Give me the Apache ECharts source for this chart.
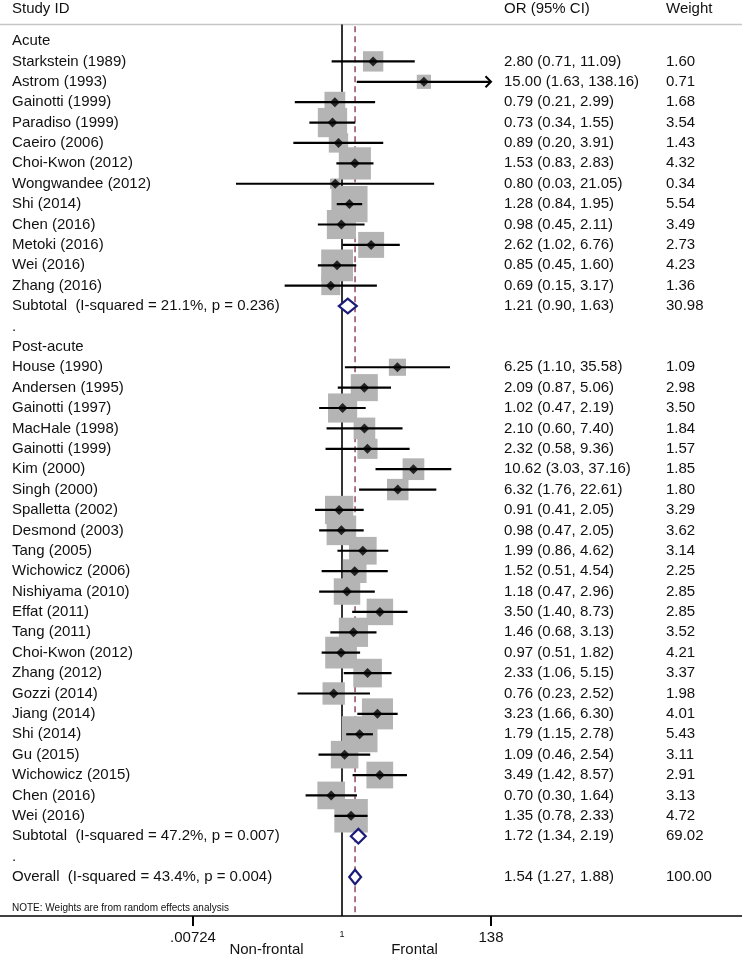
<!DOCTYPE html>
<html><head><meta charset="utf-8">
<script src="https://cdn.jsdelivr.net/npm/echarts@6/dist/echarts.min.js"></script>
<style>html,body{margin:0;padding:0;background:#fff}#c{width:742px;height:957px}</style>
</head><body><div id="c"></div>
<script>
// ---------- data ----------
const groupLabels = ['Acute', 'Post-acute'];

const acuteStudies = ['Starkstein (1989)','Astrom (1993)','Gainotti (1999)','Paradiso (1999)','Caeiro (2006)','Choi-Kwon (2012)','Wongwandee (2012)','Shi (2014)','Chen (2016)','Metoki (2016)','Wei (2016)','Zhang (2016)'];
const acuteOR     = [2.80, 15.00, 0.79, 0.73, 0.89, 1.53, 0.80, 1.28, 0.98, 2.62, 0.85, 0.69];
const acuteLo     = [0.71, 1.63, 0.21, 0.34, 0.20, 0.83, 0.03, 0.84, 0.45, 1.02, 0.45, 0.15];
const acuteHi     = [11.09, 138.16, 2.99, 1.55, 3.91, 2.83, 21.05, 1.95, 2.11, 6.76, 1.60, 3.17];
const acuteWeight = [1.60, 0.71, 1.68, 3.54, 1.43, 4.32, 0.34, 5.54, 3.49, 2.73, 4.23, 1.36];

const postStudies = ['House (1990)','Andersen (1995)','Gainotti (1997)','MacHale (1998)','Gainotti (1999)','Kim (2000)','Singh (2000)','Spalletta (2002)','Desmond (2003)','Tang (2005)','Wichowicz (2006)','Nishiyama (2010)','Effat (2011)','Tang (2011)','Choi-Kwon (2012)','Zhang (2012)','Gozzi (2014)','Jiang (2014)','Shi (2014)','Gu (2015)','Wichowicz (2015)','Chen (2016)','Wei (2016)'];
const postOR     = [6.25, 2.09, 1.02, 2.10, 2.32, 10.62, 6.32, 0.91, 0.98, 1.99, 1.52, 1.18, 3.50, 1.46, 0.97, 2.33, 0.76, 3.23, 1.79, 1.09, 3.49, 0.70, 1.35];
const postLo     = [1.10, 0.87, 0.47, 0.60, 0.58, 3.03, 1.76, 0.41, 0.47, 0.86, 0.51, 0.47, 1.40, 0.68, 0.51, 1.06, 0.23, 1.66, 1.15, 0.46, 1.42, 0.30, 0.78];
const postHi     = [35.58, 5.06, 2.19, 7.40, 9.36, 37.16, 22.61, 2.05, 2.05, 4.62, 4.54, 2.96, 8.73, 3.13, 1.82, 5.15, 2.52, 6.30, 2.78, 2.54, 8.57, 1.64, 2.33];
const postWeight = [1.09, 2.98, 3.50, 1.84, 1.57, 1.85, 1.80, 3.29, 3.62, 3.14, 2.25, 2.85, 2.85, 3.52, 4.21, 3.37, 1.98, 4.01, 5.43, 3.11, 2.91, 3.13, 4.72];

const subtotalLabels = ['Subtotal  (I-squared = 21.1%, p = 0.236)', 'Subtotal  (I-squared = 47.2%, p = 0.007)'];
const subtotalOR     = [1.21, 1.72];
const subtotalLo     = [0.90, 1.34];
const subtotalHi     = [1.63, 2.19];
const subtotalWeight = [30.98, 69.02];

const overallLabel  = 'Overall  (I-squared = 43.4%, p = 0.004)';
const overallOR     = 1.54;
const overallLo     = 1.27;
const overallHi     = 1.88;
const overallWeight = 100.00;

const headerLabels = ['Study ID', 'OR (95% CI)', 'Weight'];
const tickValues = [0.00724, 1, 138];
const tickLabels = ['.00724', '1', '138'];
const axisTitles = ['Non-frontal', 'Frontal'];
const noteText = 'NOTE: Weights are from random effects analysis';

// ---------- build rows ----------
const rows = [];
let r = 0;
function addGroup(name, studies, est, lo, hi, w, si) {
  rows.push({r: r++, kind: 'group', label: name});
  studies.forEach((s, i) => rows.push({r: r++, kind: 'study', label: s, est: est[i], lo: lo[i], hi: hi[i], w: w[i]}));
  rows.push({r: r++, kind: 'sum', label: subtotalLabels[si], est: subtotalOR[si], lo: subtotalLo[si], hi: subtotalHi[si], w: subtotalWeight[si]});
  rows.push({r: r++, kind: 'dot', label: '.'});
}
addGroup(groupLabels[0], acuteStudies, acuteOR, acuteLo, acuteHi, acuteWeight, 0);
addGroup(groupLabels[1], postStudies, postOR, postLo, postHi, postWeight, 1);
rows.push({r: r++, kind: 'sum', label: overallLabel, est: overallOR, lo: overallLo, hi: overallHi, w: overallWeight});

const f2 = v => v.toFixed(2);
const ln = Math.log;
const studies = rows.filter(d => d.kind === 'study');
const sums = rows.filter(d => d.kind === 'sum');
const clipHi = ln(tickValues[2]);

// ---------- layout ----------
const PX_PER_LN = 30.24, X0 = 342, W = 742;
const xMin = -X0 / PX_PER_LN, xMax = (W - X0) / PX_PER_LN;
const ROW_H = 20.39, ROW0_Y = 41, AXIS_Y = 916;
const yMin = -ROW0_Y / ROW_H, yMax = (AXIS_Y - ROW0_Y) / ROW_H;
const FONT = "'Liberation Sans', Arial, Helvetica, sans-serif";
const TXT = '#111';
const COLX = [12, 504, 666];
const SEP_Y = 24.5;

const chart = echarts.init(document.getElementById('c'), null, {renderer: 'canvas'});
chart.setOption({
  animation: false,
  backgroundColor: '#fff',
  grid: {left: 0, right: 0, top: 0, bottom: 957 - AXIS_Y},
  xAxis: {
    type: 'value', min: xMin, max: xMax,
    splitLine: {show: false},
    axisLine: {show: true, onZero: false, lineStyle: {color: '#000', width: 1.5}},
    axisTick: {show: true, customValues: [ln(tickValues[0]), ln(tickValues[2])], length: 10, lineStyle: {color: '#000', width: 2}},
    axisLabel: {
      show: true, customValues: tickValues.map(ln), margin: 14, color: TXT, fontFamily: FONT, fontSize: 15,
      formatter: v => {
        const i = tickValues.findIndex(t => Math.abs(ln(t) - v) < 1e-6);
        return i === 1 ? '{s|' + tickLabels[i] + '}' : tickLabels[i];
      },
      rich: {s: {fontSize: 9, fontFamily: FONT, color: TXT, padding: [0, 0, 4, 0]}}
    }
  },
  yAxis: {type: 'value', inverse: true, min: yMin, max: yMax, show: false},
  graphic: [
    {type: 'line', shape: {x1: 0, y1: SEP_Y, x2: W, y2: SEP_Y}, style: {stroke: '#c6c6c6', lineWidth: 1.5}},
    {type: 'text', x: COLX[0], y: 9, style: {text: headerLabels[0], fill: TXT, font: '15px ' + FONT, verticalAlign: 'middle'}},
    {type: 'text', x: COLX[1], y: 9, style: {text: headerLabels[1], fill: TXT, font: '15px ' + FONT, verticalAlign: 'middle'}},
    {type: 'text', x: COLX[2], y: 9, style: {text: headerLabels[2], fill: TXT, font: '15px ' + FONT, verticalAlign: 'middle'}},
    {type: 'text', x: COLX[0], y: 908, style: {text: noteText, fill: TXT, font: '10px ' + FONT, verticalAlign: 'middle'}},
    {type: 'text', x: 266.5, y: 950, style: {text: axisTitles[0], fill: TXT, font: '15px ' + FONT, verticalAlign: 'middle', align: 'center'}},
    {type: 'text', x: 414.5, y: 950, style: {text: axisTitles[1], fill: TXT, font: '15px ' + FONT, verticalAlign: 'middle', align: 'center'}}
  ],
  series: [
    { // reference lines
      type: 'custom', z: 1, silent: true,
      data: [[0, 0], [ln(overallOR), 1]],
      renderItem: (p, api) => {
        const x = api.value(0), dashed = api.value(1) === 1;
        const top = api.coord([x, dashed ? -0.72 : (SEP_Y - ROW0_Y) / ROW_H]);
        const bot = api.coord([x, yMax]);
        return {type: 'line', shape: {x1: top[0], y1: top[1], x2: bot[0], y2: bot[1]},
          style: dashed ? {stroke: '#8b3d52', lineWidth: 1.4, lineDash: [6, 4]} : {stroke: '#000', lineWidth: 1.6}};
      }
    },
    { // weight boxes
      type: 'custom', z: 2, silent: true,
      data: studies.map(d => [ln(d.est), d.r, d.w]),
      renderItem: (p, api) => {
        const c = api.coord([api.value(0), api.value(1)]);
        const s = 2 + 14.5 * Math.sqrt(api.value(2));
        return {type: 'rect', shape: {x: c[0] - s / 2, y: c[1] - s / 2, width: s, height: s}, style: {fill: '#b4b4b4'}};
      }
    },
    { // CI lines
      type: 'custom', z: 3, silent: true,
      data: studies.map(d => [ln(d.lo), ln(d.hi), d.r]),
      renderItem: (p, api) => {
        const hiV = api.value(1), over = hiV > clipHi;
        const a = api.coord([api.value(0), api.value(2)]);
        const b = api.coord([over ? clipHi : hiV, api.value(2)]);
        const ch = [{type: 'line', shape: {x1: a[0], y1: a[1], x2: b[0], y2: b[1]}, style: {stroke: '#000', lineWidth: 2.2}}];
        if (over) ch.push({type: 'polyline', shape: {points: [[b[0] - 5.5, b[1] - 5.5], [b[0], b[1]], [b[0] - 5.5, b[1] + 5.5]]}, style: {stroke: '#000', lineWidth: 2, fill: null}});
        return {type: 'group', children: ch};
      }
    },
    { // point estimates
      type: 'scatter', z: 4, silent: true, symbol: 'diamond', symbolSize: [10, 10],
      itemStyle: {color: '#000'},
      data: studies.map(d => [ln(d.est), d.r])
    },
    { // pooled diamonds
      type: 'custom', z: 4, silent: true,
      data: sums.map(d => [ln(d.lo), ln(d.est), ln(d.hi), d.r]),
      renderItem: (p, api) => {
        const rr = api.value(3);
        const l = api.coord([api.value(0), rr]), c = api.coord([api.value(1), rr]), h = api.coord([api.value(2), rr]);
        const hh = 7.3;
        return {type: 'polygon', shape: {points: [[l[0], c[1]], [c[0], c[1] - hh], [h[0], c[1]], [c[0], c[1] + hh]]},
          style: {fill: '#fff', stroke: '#1b1b78', lineWidth: 2.2}};
      }
    },
    { // text columns
      type: 'custom', z: 5, silent: true,
      data: rows.map(d => [0, d.r]),
      renderItem: (p, api) => {
        const d = rows[p.dataIndex];
        const y = api.coord([0, d.r])[1];
        const st = (x, t) => ({type: 'text', style: {x: x, y: y, text: t, fill: TXT, font: '15px ' + FONT, verticalAlign: 'middle', align: 'left'}});
        const ch = [st(COLX[0], d.label)];
        if (d.kind === 'study' || d.kind === 'sum') {
          ch.push(st(COLX[1], f2(d.est) + ' (' + f2(d.lo) + ', ' + f2(d.hi) + ')'));
          ch.push(st(COLX[2], f2(d.w)));
        }
        return {type: 'group', children: ch};
      }
    }
  ]
});
</script>
</body></html>
